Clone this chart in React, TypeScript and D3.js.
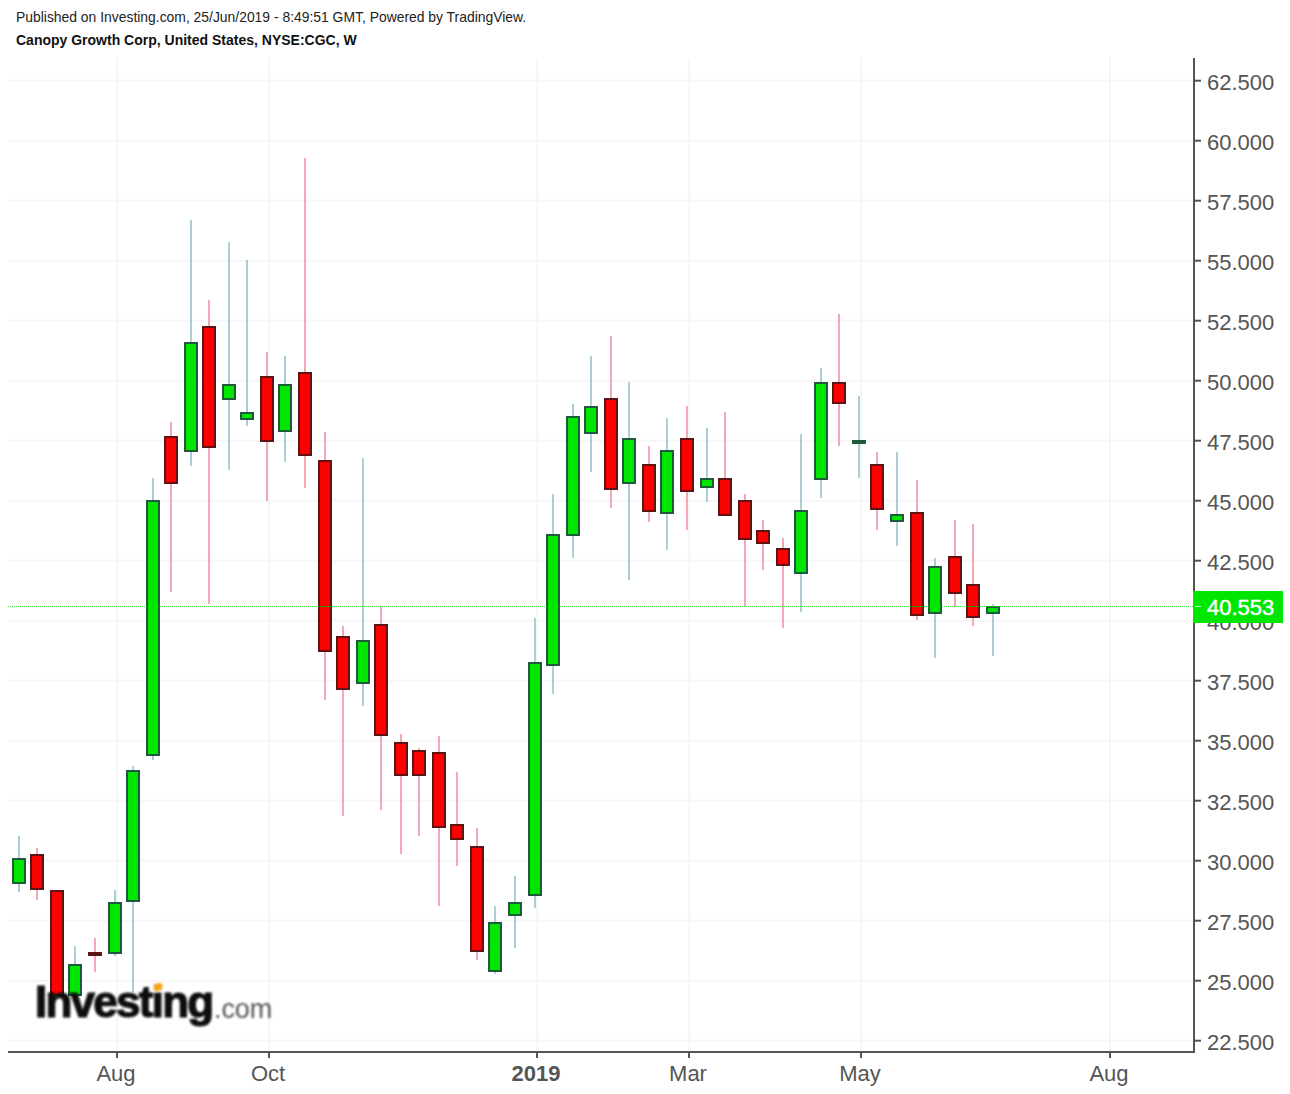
import React, { useRef, useEffect } from 'react';
import * as d3 from 'd3';

// Weekly bars, first one is the week of 2 Jul 2018
const opens = [29.07, 30.24, 28.73, 24.40, 26.15, 26.15, 28.32, 34.40, 47.65, 47.07, 52.23, 49.23, 48.40, 50.15, 47.90, 50.32, 46.65, 39.32, 37.40, 39.82, 34.90, 34.57, 34.48, 31.48, 30.57, 25.40, 27.73, 28.57, 38.15, 43.57, 47.82, 49.23, 45.73, 46.48, 44.48, 47.57, 45.57, 45.90, 44.98, 43.73, 42.98, 41.98, 45.90, 49.90, 47.40, 46.48, 44.15, 44.48, 40.32, 42.65, 41.48, 40.32];
const closes = [30.07, 28.82, 24.40, 25.65, 26.07, 28.23, 33.73, 44.98, 45.73, 51.57, 47.23, 49.82, 48.65, 47.48, 49.82, 46.90, 38.73, 37.15, 39.15, 35.23, 33.57, 33.57, 31.40, 30.90, 26.23, 27.40, 28.23, 38.23, 43.57, 48.48, 48.90, 45.48, 47.57, 44.57, 47.07, 45.40, 45.90, 44.40, 43.40, 43.23, 42.32, 44.57, 49.90, 49.07, 47.48, 44.65, 44.40, 40.23, 42.23, 41.15, 40.15, 40.57];
const highs = [31.03, 30.53, 28.73, 26.44, 26.78, 28.78, 33.94, 45.94, 48.28, 56.69, 53.36, 55.78, 55.03, 51.19, 51.03, 59.28, 47.86, 39.78, 46.78, 40.61, 35.28, 34.69, 35.19, 33.69, 31.36, 28.11, 29.36, 40.11, 45.28, 49.03, 51.03, 51.86, 49.94, 47.28, 48.44, 48.94, 48.03, 48.69, 45.28, 44.19, 43.44, 47.78, 50.53, 52.78, 49.36, 47.03, 47.03, 45.86, 42.61, 44.19, 44.03, 40.69];
const lows = [28.69, 28.36, 24.40, 24.40, 25.36, 26.03, 24.53, 34.19, 41.19, 46.44, 40.69, 46.28, 48.11, 44.98, 46.61, 45.53, 36.69, 31.86, 36.44, 32.11, 30.28, 31.03, 28.11, 29.78, 25.86, 25.28, 26.36, 28.03, 36.94, 42.61, 46.19, 44.69, 41.69, 44.11, 42.94, 43.78, 44.94, 44.40, 40.61, 42.11, 39.69, 40.36, 45.11, 47.28, 45.94, 43.78, 43.11, 40.03, 38.44, 40.57, 39.78, 38.53];

const priceTicks = [22.5, 25, 27.5, 30, 32.5, 35, 37.5, 40, 42.5, 45, 47.5, 50, 52.5, 55, 57.5, 60, 62.5];
const timeTickWeeks = [5, 13, 27, 35, 44, 57];
const timeTickLabels = ['Aug', 'Oct', '2019', 'Mar', 'May', 'Aug'];
const lastPrice = 40.553;

const FONT = '"Liberation Sans", Arial, sans-serif';
const AXIS = '#555555';

const App = () => {
  const svgRef = useRef<SVGSVGElement | null>(null);

  useEffect(() => {
    if (!svgRef.current) return;
    const svg = d3.select(svgRef.current);
    svg.selectAll('*').remove();

    const left = 8, right = 1194, top = 58, bottom = 1052;

    const x = d3.scaleLinear().domain([0, 51]).range([18.6, 992.445]);
    const y = d3.scaleLinear().domain([22.5, 62.5]).range([1040.7, 80.7]);
    // bars sit on odd pixels in the original
    const barX = (i: number) => 2 * Math.round((x(i) - 1) / 2) + 1;
    const tickX = (i: number) => Math.round(x(i) + 2.5);

    // ! GRID
    svg.append('g').selectAll('line').data(priceTicks).enter().append('line')
      .attr('x1', left).attr('x2', right)
      .attr('y1', d => y(d)).attr('y2', d => y(d))
      .attr('stroke', '#f6f6f6').attr('stroke-width', 2);
    svg.append('g').selectAll('line').data(timeTickWeeks).enter().append('line')
      .attr('x1', d => tickX(d)).attr('x2', d => tickX(d))
      .attr('y1', top).attr('y2', bottom)
      .attr('stroke', '#f6f6f6').attr('stroke-width', 2);

    // ! CANDLES
    const bars = d3.range(opens.length);
    const candle = svg.append('g').selectAll('g').data(bars).enter().append('g');
    candle.append('rect')
      .attr('x', i => barX(i) - 1).attr('width', 2)
      .attr('y', i => Math.round(y(highs[i])))
      .attr('height', i => Math.round(y(lows[i])) - Math.round(y(highs[i])))
      .attr('fill', i => (closes[i] >= opens[i] ? '#a9ced5' : '#f5a7b5'));
    candle.append('rect')
      .attr('x', i => barX(i) - 6).attr('width', 12)
      .attr('y', i => Math.round(y(Math.max(opens[i], closes[i]))))
      .attr('height', i => Math.max(2, Math.round(y(Math.min(opens[i], closes[i]))) - Math.round(y(Math.max(opens[i], closes[i])))))
      .attr('fill', i => (closes[i] >= opens[i] ? '#00e600' : '#ff0000'))
      .attr('stroke', i => (closes[i] >= opens[i] ? '#1f5a3c' : '#5c1414'))
      .attr('stroke-width', 2)
      .attr('shape-rendering', 'crispEdges');

    // ! AXES
    const yAxis = svg.append('g')
      .attr('transform', `translate(${right},0)`)
      .call(d3.axisRight(y).tickValues(priceTicks).tickFormat(d3.format('.3f') as any).tickSize(7).tickPadding(6).offset(0));
    const xAxis = svg.append('g')
      .attr('transform', `translate(0,${bottom})`)
      .call(d3.axisBottom(d3.scaleLinear().domain([0, 1290]).range([0, 1290]))
        .tickValues(timeTickWeeks.map(tickX))
        .tickFormat((_d, i) => timeTickLabels[i])
        .tickSize(6).tickPadding(7).offset(0));
    for (const axis of [yAxis, xAxis]) {
      axis.selectAll('.domain').remove();
      axis.selectAll('line').attr('stroke', AXIS).attr('stroke-width', 2);
      axis.selectAll('text').attr('fill', AXIS).attr('font-family', FONT).attr('font-size', 22);
    }
    yAxis.selectAll('text').attr('dy', '0.4em');
    xAxis.selectAll('text').attr('dx', -1);
    xAxis.selectAll('text').filter((_d, i) => timeTickLabels[i] === '2019').attr('font-weight', 'bold');

    svg.append('line').attr('x1', right).attr('x2', right).attr('y1', top).attr('y2', bottom + 1)
      .attr('stroke', AXIS).attr('stroke-width', 2);
    svg.append('line').attr('x1', left).attr('x2', right).attr('y1', bottom).attr('y2', bottom)
      .attr('stroke', AXIS).attr('stroke-width', 2);

    // ! LAST PRICE
    const lastY = Math.round(y(lastPrice)) - 0.5;
    svg.append('line')
      .attr('x1', left).attr('x2', right).attr('y1', lastY).attr('y2', lastY)
      .attr('stroke', '#00e600').attr('stroke-opacity', 0.75).attr('stroke-dasharray', '1 1');
    svg.append('rect').attr('x', right - 1).attr('y', lastY - 15.5).attr('width', 90).attr('height', 32).attr('fill', '#00e600');
    svg.append('line').attr('x1', right + 1).attr('x2', right + 7).attr('y1', lastY).attr('y2', lastY)
      .attr('stroke', '#ffffff').attr('stroke-opacity', 0.7);
    svg.append('text').attr('x', 1207).attr('y', lastY).attr('dy', '0.4em')
      .attr('fill', '#ffffff').attr('font-family', FONT).attr('font-size', 22)
      .attr('stroke', '#ffffff').attr('stroke-width', 0.4)
      .text(d3.format('.3f')(lastPrice));

    // ! HEADER
    svg.append('text').attr('x', 16).attr('y', 22).attr('font-family', FONT).attr('font-size', 13.9)
      .attr('fill', '#222222').text('Published on Investing.com, 25/Jun/2019 - 8:49:51 GMT, Powered by TradingView.');
    svg.append('text').attr('x', 16).attr('y', 45).attr('font-family', FONT).attr('font-size', 14)
      .attr('font-weight', 'bold').attr('fill', '#111111')
      .text('Canopy Growth Corp, United States, NYSE:CGC, W');

    // ! LOGO
    const defs = svg.append('defs');
    defs.append('filter').attr('id', 'soft').append('feGaussianBlur').attr('stdDeviation', 0.8);
    const logo = svg.append('g').attr('filter', 'url(#soft)');
    logo.append('text').attr('x', 35).attr('y', 1017).attr('font-family', FONT).attr('font-size', 44)
      .attr('font-weight', 'bold').attr('letter-spacing', -1.75).attr('fill', '#0a0a0a')
      .attr('stroke', '#0a0a0a').attr('stroke-width', 1.2).text('Investing');
    logo.append('text').attr('x', 214).attr('y', 1018).attr('font-family', FONT).attr('font-size', 27)
      .attr('letter-spacing', -0.1).attr('fill', '#555555').text('.com');
    logo.append('ellipse').attr('cx', 158).attr('cy', 987).attr('rx', 5).attr('ry', 3.5)
      .attr('transform', 'rotate(-35 158 987)').attr('fill', '#f7a30a');
  }, []);

  return (
    <svg ref={svgRef} width={1290} height={1094}
      style={{ position: 'absolute', left: 0, top: 0, display: 'block', background: '#ffffff' }} />
  );
};

export default App;
